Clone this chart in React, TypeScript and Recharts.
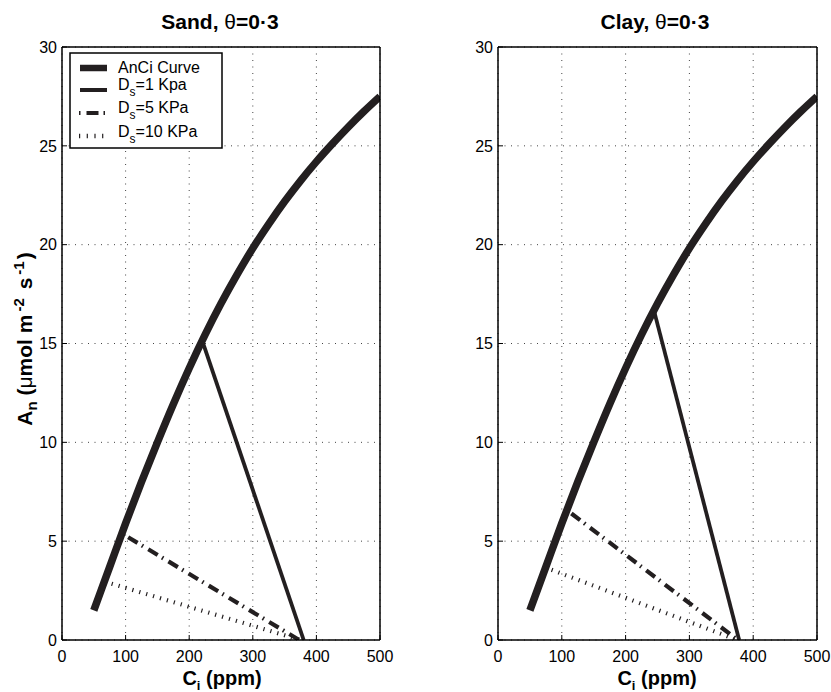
import React from 'react';
import { LineChart, Line, XAxis, YAxis, CartesianGrid } from 'recharts';

const xTicks = [0, 100, 200, 300, 400, 500];
const yTicks = [0, 5, 10, 15, 20, 25, 30];

const panelTitles = ['Sand, ', 'Clay, '];

const anciCi = [50, 75, 100, 125, 150, 175, 200, 225, 250, 275, 300, 325, 350, 375, 400, 425, 450, 475, 500];
const anciSand = [1.5, 3.7, 5.9, 8.0, 10.0, 11.93, 13.75, 15.45, 17.02, 18.47, 19.82, 21.04, 22.18, 23.23, 24.2, 25.1, 25.95, 26.75, 27.5];
const anciClay = [1.5, 3.7, 5.9, 8.0, 10.0, 11.93, 13.75, 15.45, 17.02, 18.47, 19.82, 21.04, 22.18, 23.23, 24.2, 25.1, 25.95, 26.75, 27.5];

const sandDs1Ci = [221, 380];
const sandDs1An = [15.1, 0];
const sandDs5Ci = [104, 373];
const sandDs5An = [5.2, 0];
const sandDs10Ci = [78, 375];
const sandDs10An = [2.85, 0];

const clayDs1Ci = [245, 378];
const clayDs1An = [16.6, 0];
const clayDs5Ci = [115, 376];
const clayDs5An = [6.4, 0];
const clayDs10Ci = [84, 375];
const clayDs10An = [3.55, 0];

const legendLabels = ['AnCi Curve', '=1 Kpa', '=5 KPa', '=10 KPa'];

type Pt = { x: number; y: number };
const toPts = (xs: number[], ys: number[]): Pt[] => xs.map((x, i) => ({ x, y: ys[i] }));

const INK = '#231f20';
const FONT = '"Liberation Sans", Arial, Helvetica, sans-serif';

const DASHDOT = '11 5 1.5 6';
const DOTTED = '1.2 6';

function Panel(props: {
  left: number;
  width: number;
  right: number;
  curve: Pt[];
  ds1: Pt[];
  ds5: Pt[];
  ds10: Pt[];
}) {
  const { left, width, right, curve, ds1, ds5, ds10 } = props;
  const axisLine = { stroke: '#000', strokeWidth: 1.5 };
  const tickLine = { stroke: '#000', strokeWidth: 1 };
  return (
    <div style={{ position: 'absolute', left, top: 0 }}>
      <LineChart width={width} height={692} margin={{ top: 46, right, bottom: 0, left: 0 }}>
        <CartesianGrid stroke="#444" strokeDasharray="1 5.5" strokeWidth={1} />
        <XAxis
          type="number"
          dataKey="x"
          domain={[0, 500]}
          ticks={xTicks}
          interval={0}
          allowDataOverflow
          height={52}
          tickSize={-5}
          tickMargin={16}
          axisLine={axisLine}
          tickLine={tickLine}
          tick={{ fill: '#000', fontSize: 16 }}
        />
        <XAxis
          xAxisId="top"
          orientation="top"
          type="number"
          dataKey="x"
          domain={[0, 500]}
          ticks={xTicks}
          interval={0}
          allowDataOverflow
          height={1}
          tickSize={-5}
          axisLine={axisLine}
          tickLine={tickLine}
          tick={false}
        />
        <YAxis
          type="number"
          domain={[0, 30]}
          ticks={yTicks}
          interval={0}
          allowDataOverflow
          width={62}
          tickSize={-5}
          tickMargin={10}
          axisLine={axisLine}
          tickLine={tickLine}
          tick={{ fill: '#000', fontSize: 16 }}
        />
        <YAxis
          yAxisId="right"
          orientation="right"
          type="number"
          domain={[0, 30]}
          ticks={yTicks}
          interval={0}
          allowDataOverflow
          width={1}
          tickSize={-5}
          axisLine={axisLine}
          tickLine={tickLine}
          tick={false}
        />
        <Line data={curve} dataKey="y" type="monotone" stroke={INK} strokeWidth={7.5} dot={false} activeDot={false} isAnimationActive={false} />
        <Line data={ds1} dataKey="y" type="linear" stroke={INK} strokeWidth={3.8} dot={false} activeDot={false} isAnimationActive={false} />
        <Line data={ds5} dataKey="y" type="linear" stroke={INK} strokeWidth={4.2} strokeDasharray={DASHDOT} dot={false} activeDot={false} isAnimationActive={false} />
        <Line data={ds10} dataKey="y" type="linear" stroke={INK} strokeWidth={4.2} strokeDasharray={DOTTED} dot={false} activeDot={false} isAnimationActive={false} />
      </LineChart>
    </div>
  );
}

function Title({ cx, label }: { cx: number; label: string }) {
  return (
    <text x={cx} y={29} textAnchor="middle" fontSize={21} fontWeight="bold" fill="#000">
      {label}
      <tspan fontWeight="normal">θ</tspan>
      =0·3
    </text>
  );
}

function XLabel({ cx }: { cx: number }) {
  return (
    <text x={cx} y={685} textAnchor="middle" fontSize={20} fontWeight="bold" fill="#000">
      C
      <tspan fontSize={13} dy={5}>i</tspan>
      <tspan dy={-5}> (ppm)</tspan>
    </text>
  );
}

function Legend() {
  const x0 = 80;
  const x1 = 107;
  const tx = 118;
  return (
    <g>
      <rect x={70} y={53} width={152} height={95} fill="#fff" stroke="#000" strokeWidth={1.5} />
      <line x1={x0} x2={x1} y1={68} y2={68} stroke={INK} strokeWidth={6.5} />
      <text x={tx} y={72.5} fontSize={16} fill="#000">{legendLabels[0]}</text>

      <line x1={x0} x2={x1} y1={90} y2={90} stroke={INK} strokeWidth={4} />
      <text x={tx} y={89.5} fontSize={16} fill="#000">
        D<tspan fontSize={12} dy={6}>s</tspan>
        <tspan dy={-6}>{legendLabels[1]}</tspan>
      </text>

      <line x1={x0 - 1} x2={x1} y1={113} y2={113} stroke={INK} strokeWidth={4} strokeDasharray="1.5 6 12 5 1.5 6" />
      <text x={tx} y={113} fontSize={16} fill="#000">
        D<tspan fontSize={12} dy={6}>s</tspan>
        <tspan dy={-6}>{legendLabels[2]}</tspan>
      </text>

      <line x1={x0 - 1} x2={x1} y1={136} y2={136} stroke={INK} strokeWidth={4.5} strokeDasharray="1.2 6.5" />
      <text x={tx} y={137} fontSize={16} fill="#000">
        D<tspan fontSize={12} dy={6}>s</tspan>
        <tspan dy={-6}>{legendLabels[3]}</tspan>
      </text>
    </g>
  );
}

export default function App() {
  return (
    <div style={{ position: 'absolute', left: 0, top: 0, width: 831, height: 692, background: '#fff', fontFamily: FONT }}>
      <Panel
        left={0}
        width={415}
        right={34}
        curve={toPts(anciCi, anciSand)}
        ds1={toPts(sandDs1Ci, sandDs1An)}
        ds5={toPts(sandDs5Ci, sandDs5An)}
        ds10={toPts(sandDs10Ci, sandDs10An)}
      />
      <Panel
        left={436}
        width={395}
        right={13}
        curve={toPts(anciCi, anciClay)}
        ds1={toPts(clayDs1Ci, clayDs1An)}
        ds5={toPts(clayDs5Ci, clayDs5An)}
        ds10={toPts(clayDs10Ci, clayDs10An)}
      />
      <svg width={831} height={692} style={{ position: 'absolute', left: 0, top: 0, pointerEvents: 'none', fontFamily: FONT }}>
        <Title cx={220} label={panelTitles[0]} />
        <Title cx={655} label={panelTitles[1]} />
        <XLabel cx={222} />
        <XLabel cx={657} />
        <g transform="translate(32,339) rotate(-90)">
          <text x={0} y={0} textAnchor="middle" fontSize={21} fontWeight="bold" fill="#000">
            A<tspan fontSize={15} dy={5}>n</tspan>
            <tspan dy={-5}> (</tspan>
            <tspan fontWeight="normal">μ</tspan>
            <tspan>mol m</tspan>
            <tspan fontSize={15} dx={3} dy={-8}>-2</tspan>
            <tspan dx={3} dy={8}> s</tspan>
            <tspan fontSize={15} dx={3} dy={-8}>-1</tspan>
            <tspan dx={2} dy={8}>)</tspan>
          </text>
        </g>
        <Legend />
      </svg>
    </div>
  );
}
